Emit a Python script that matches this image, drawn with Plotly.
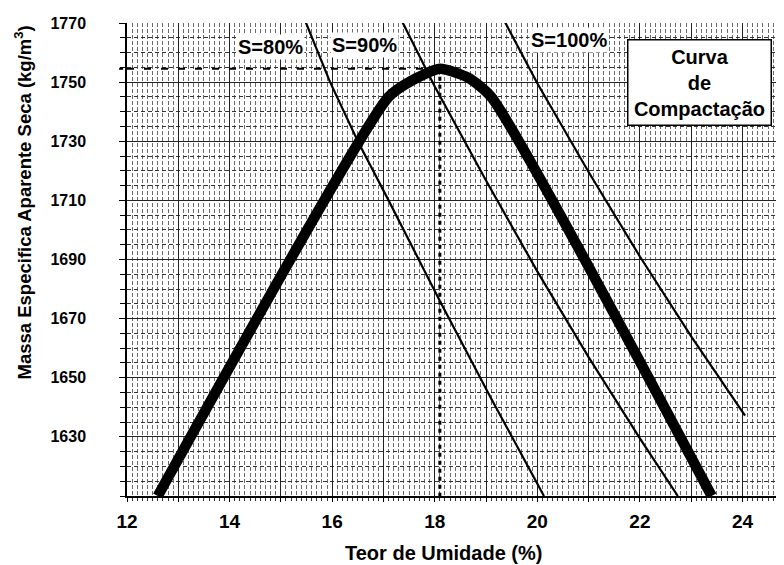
import plotly.graph_objects as go

# ---- data ----
comp_w = [12.6, 17.1, 17.55, 18.1, 18.65, 19.1, 23.4]
comp_rho = [1610, 1745, 1750.5, 1754.5, 1751.5, 1745, 1610]

s80_w = [15.43, 15.96, 16.5, 17.1, 18.1, 19.1, 20.13]
s80_rho = [1772.6, 1750, 1730, 1710, 1676, 1643, 1610]

s90_w = [17.35, 18.0, 19.0, 20.0, 21.0, 22.0, 22.74]
s90_rho = [1771, 1748.5, 1716.7, 1686, 1657, 1629.5, 1610]

s100_w = [19.3, 20.0, 21.0, 22.0, 23.0, 24.05]
s100_rho = [1772.6, 1749.6, 1719.6, 1691, 1664, 1637.2]

w_opt = 18.1
rho_max = 1754.5

x_tickvals = [12, 13, 14, 15, 16, 17, 18, 19, 20, 21, 22, 23, 24]
x_ticktext = ["12", "", "14", "", "16", "", "18", "", "20", "", "22", "", "24"]
y_tickvals = [1630, 1650, 1670, 1690, 1710, 1730, 1750, 1770]
y_ticktext = ["1630", "1650", "1670", "1690", "1710", "1730", "1750", "1770"]

FONT = "Liberation Sans, Arial, sans-serif"

fig = go.Figure()

# reference lines
fig.add_trace(go.Scatter(x=[12, w_opt], y=[rho_max, rho_max], mode="lines",
                         line=dict(color="black", width=2, dash="7px,10px"),
                         showlegend=False, hoverinfo="skip"))
fig.add_shape(type="line", xref="paper", yref="y", x0=-0.012, x1=0.0,
              y0=rho_max, y1=rho_max, line=dict(color="black", width=2, dash="4px,4px"))
fig.add_trace(go.Scatter(x=[w_opt, w_opt], y=[rho_max, 1610], mode="lines",
                         line=dict(color="black", width=3, dash="4px,4px"),
                         showlegend=False, hoverinfo="skip"))

for xs, ys in [(s80_w, s80_rho), (s90_w, s90_rho), (s100_w, s100_rho)]:
    fig.add_trace(go.Scatter(x=xs, y=ys, mode="lines",
                             line=dict(color="black", width=2.2),
                             showlegend=False))

fig.add_trace(go.Scatter(x=comp_w, y=comp_rho, mode="lines",
                         line=dict(color="black", width=10.5, shape="spline", smoothing=0.6),
                         showlegend=False))

# labels
for txt, x, y in [("S=80%", 14.79, 1761.8), ("S=90%", 16.64, 1762.4), ("S=100%", 20.62, 1764.1)]:
    fig.add_annotation(x=x, y=y, xref="x", yref="y", text=txt, showarrow=False,
                       font=dict(family=FONT, size=20, color="black", weight="bold"),
                       bgcolor="white", borderpad=1)

fig.add_annotation(x=23.17, y=1749.9, xref="x", yref="y",
                   text="Curva<br>de<br>Compactação", showarrow=False,
                   font=dict(family=FONT, size=20, color="black", weight="bold"),
                   bgcolor="white", bordercolor="black", borderwidth=1.5,
                   width=138, height=80, borderpad=2, align="center")

# axis titles
fig.add_annotation(x=0.482, y=-0.12, xref="paper", yref="paper",
                   text="Teor de Umidade (%)", showarrow=False,
                   xanchor="center", yanchor="middle",
                   font=dict(family=FONT, size=20, color="black", weight="bold"))
fig.add_annotation(x=-0.158, y=0.621, xref="paper", yref="paper",
                   text="Massa Especifica Aparente Seca (kg/m<sup>3</sup>)", showarrow=False,
                   textangle=-90, xanchor="center", yanchor="middle",
                   font=dict(family=FONT, size=18.5, color="black", weight="bold"))

# page body adds an 8px offset; margins compensate
fig.update_layout(
    width=784, height=565,
    margin=dict(l=119, r=8, t=15, b=77),
    paper_bgcolor="white", plot_bgcolor="white",
    font=dict(family=FONT, color="black"),
    showlegend=False,
)

fig.update_xaxes(
    range=[12, 24.81], tickvals=x_tickvals, ticktext=x_ticktext,
    showgrid=True, gridcolor="#222222", gridwidth=1,
    showline=True, linecolor="black", linewidth=1.5,
    ticks="outside", ticklen=4, tickcolor="black",
    tickfont=dict(family=FONT, size=19, color="black", weight="bold"),
    ticklabelstandoff=3, zeroline=False,
    minor=dict(dtick=0.1, tick0=12, showgrid=True, gridcolor="#6a6a6a",
               griddash="4px,2px", gridwidth=1, ticks="outside", ticklen=3, tickcolor="#333333"),
)
fig.update_yaxes(
    range=[1610, 1770], tickvals=y_tickvals, ticktext=y_ticktext,
    showgrid=True, gridcolor="#222222", gridwidth=1,
    showline=True, linecolor="black", linewidth=1.5,
    ticks="outside", ticklen=6, tickcolor="black",
    tickfont=dict(family=FONT, size=16, color="black", weight="bold"),
    ticklabelstandoff=30, zeroline=False,
    minor=dict(dtick=5, tick0=1610, showgrid=True, gridcolor="#333333",
               griddash="4px,3px", gridwidth=1, ticks="outside", ticklen=5, tickcolor="black"),
)

fig.write_html("out.html")
